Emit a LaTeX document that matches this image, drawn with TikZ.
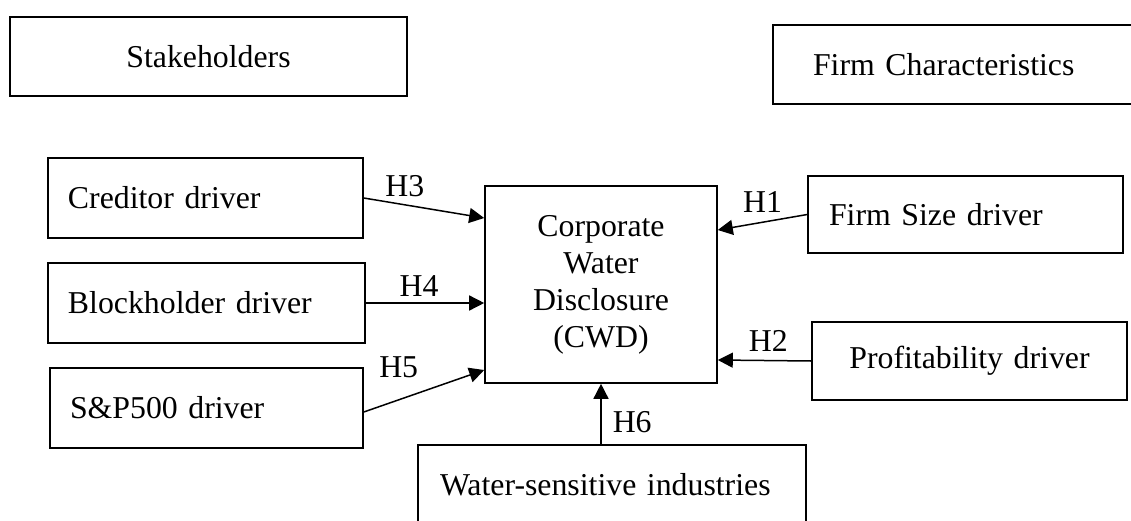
\documentclass[tikz,border=0pt]{standalone}
\usepackage{fontspec}
\setmainfont{Liberation Serif}
\usetikzlibrary{positioning,arrows.meta}

\begin{document}
\begin{tikzpicture}[x=0.5pt,y=-0.5pt,
    font=\fontsize{15.9}{18.5}\selectfont,
    box/.style={draw, rectangle, line width=0.8pt, inner xsep=10pt, inner ysep=0pt, align=left, minimum height=40pt},
    every edge/.style={draw, line width=0.75pt},
    hyp/.style={inner sep=0pt},
    >={Triangle[length=7.5pt,width=7.5pt]}]
    \useasboundingbox (0,0) rectangle (1131,520);

    \node[box, align=center, text width=178.5pt, minimum height=39.5pt] (stake) at (208.5,56.5) {Stakeholders};
    \node[box, inner xsep=20pt, text width=143.5pt, minimum height=39.5pt] (firmchar) at (956.5,64.5) {Firm Characteristics};

    \node[box, text width=137.5pt] (creditor) at (205.5,198) {Creditor driver};
    \node[box, text width=138.5pt] (block) at (206.5,303) {Blockholder driver};
    \node[box, text width=136.5pt] (sp) at (206.5,408) {S\&P500 driver};

    \node[box, align=center, text width=96pt, minimum height=98.5pt] (cwd) at (601,284.5) {Corporate\\Water\\Disclosure\\(CWD)};

    \node[box, inner xsep=10.5pt, text width=136.5pt, minimum height=38.5pt] (size) at (965.5,214.5) {Firm Size driver};
    \node[box, align=center, text width=137.5pt, minimum height=39pt] (profit) at (969.5,361) {Profitability driver};
    \node[box, inner xsep=11pt, text width=172pt] (water) at (612,485) {Water-sensitive industries};

    \path[->]
        (creditor.east) edge node[hyp, pos=0.34, above=3.75pt] {H3} ([yshift=33.25pt]cwd.west)
        (block.east) edge node[hyp, pos=0.45, above=3pt] {H4} (block.east -| cwd.west)
        ([yshift=-2pt]sp.east) edge node[hyp, pos=0.29, above=10.5pt] {H5} ([yshift=-42.75pt]cwd.west)
        (size.west) edge node[hyp, pos=0.5, above=4.3pt] {H1} ([yshift=27.25pt]cwd.east)
        (profit.west) edge node[hyp, pos=0.46, above=4.25pt] {H2} ([yshift=-37.75pt]cwd.east)
        (water.north -| cwd.south) edge node[hyp, pos=0.37, right=5.5pt] {H6} (cwd.south);
\end{tikzpicture}
\end{document}
